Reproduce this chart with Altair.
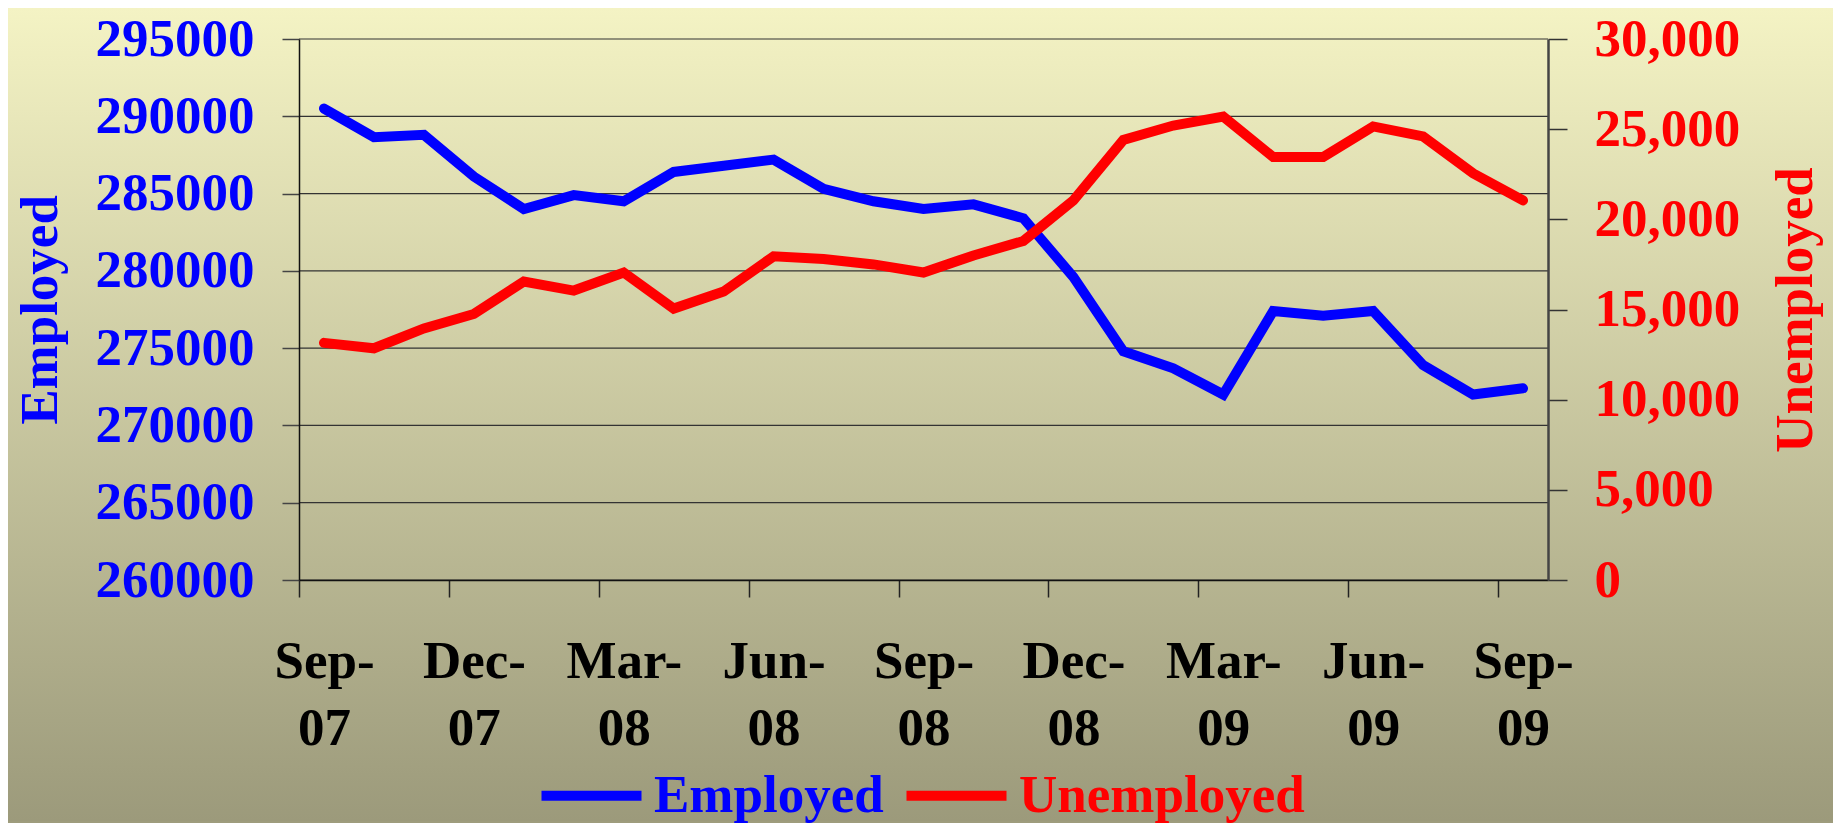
import json
import altair as alt
import pandas as pd

# ---------------- data ----------------
months = ["Sep-07", "Oct-07", "Nov-07", "Dec-07", "Jan-08", "Feb-08", "Mar-08",
          "Apr-08", "May-08", "Jun-08", "Jul-08", "Aug-08", "Sep-08", "Oct-08",
          "Nov-08", "Dec-08", "Jan-09", "Feb-09", "Mar-09", "Apr-09", "May-09",
          "Jun-09", "Jul-09", "Aug-09", "Sep-09"]
employed = [290500, 288650, 288800, 286100, 284000, 284900, 284500, 286400,
            286800, 287200, 285300, 284500, 284000, 284300, 283400, 279600,
            274800, 273700, 272000, 277400, 277100, 277400, 273900, 272000,
            272400]
unemployed = [13150, 12850, 13950, 14750, 16550, 16050, 17050, 15050, 16000,
              17950, 17800, 17500, 17050, 18000, 18800, 21050, 24400, 25200,
              25700, 23450, 23450, 25150, 24600, 22550, 21050]
emp_ticks = [260000, 265000, 270000, 275000, 280000, 285000, 290000, 295000]
unemp_ticks = [0, 5000, 10000, 15000, 20000, 25000, 30000]
# category boundaries, one tick every third month
x_tick_values = [-0.5, 2.5, 5.5, 8.5, 11.5, 14.5, 17.5, 20.5, 23.5]
series_names = ["Employed", "Unemployed"]
series_colors = ["#0000FF", "#FF0000"]

FONT = "Liberation Serif"
FS = 53
W, H = 1249, 541

df = pd.DataFrame({"idx": list(range(len(months))), "month": months,
                   "Employed": employed, "Unemployed": unemployed})

M = json.dumps(months)
lbl = f"{M}[round(datum.value + 0.5)]"
label_expr = f"[slice({lbl}, 0, 4), slice({lbl}, 4)]"

x_enc = alt.X(
    "idx:Q",
    scale=alt.Scale(domain=[-0.5, len(months) - 0.5], nice=False, zero=False),
    axis=alt.Axis(values=x_tick_values, labelExpr=label_expr, title=None,
                  grid=False, labelOffset=W / len(months) / 2,
                  tickSize=17, tickColor="#222222", tickWidth=1.5,
                  domainColor="#111111", domainWidth=1.5,
                  labelFont=FONT, labelFontSize=FS, labelFontWeight="bold",
                  labelColor="black", labelPadding=38, labelLineHeight=67,
                  labelFlush=False, labelOverlap=False, labelAlign="center",
                  labelBaseline="top", zindex=1),
)

color_scale = alt.Scale(domain=series_names, range=series_colors)
legend = alt.Legend(
    orient="none", legendX=266, legendY=730, direction="horizontal",
    title=None, symbolType="M-5,0L5,0", symbolSize=400, symbolStrokeWidth=10,
    labelFont=FONT, labelFontSize=FS, labelFontWeight="bold",
    labelColor=alt.ExprRef(expr="datum.value === 'Employed' ? '#0000FF' : '#FF0000'"),
    labelLimit=0, labelOffset=36, columnPadding=2, zindex=2,
)

emp_scale = alt.Scale(domain=[emp_ticks[0], emp_ticks[-1]], nice=False, zero=False)
emp_axis = alt.Axis(orient="left", values=emp_ticks, format="d",
                    title="Employed", grid=False,
                    tickSize=17, tickColor="#444444", tickWidth=1.5,
                    domainColor="#111111", domainWidth=1.5,
                    labelFont=FONT, labelFontSize=FS, labelFontWeight="bold",
                    labelColor="#0000FF", labelPadding=28,
                    labelFlush=False, labelOverlap=False,
                    titleFont=FONT, titleFontSize=FS, titleFontWeight="bold",
                    titleColor="#0000FF", titlePadding=32, zindex=1)

grid = alt.Chart(pd.DataFrame({"Employed": emp_ticks})).mark_rule(
    color="#333333", strokeWidth=1.2
).encode(y=alt.Y("Employed:Q", scale=emp_scale, axis=emp_axis))

emp = alt.Chart(df).transform_calculate(series="'Employed'").mark_line(
    strokeWidth=10, strokeCap="round", strokeJoin="miter"
).encode(
    x=x_enc,
    y=alt.Y("Employed:Q", scale=emp_scale, axis=emp_axis),
    color=alt.Color("series:N", scale=color_scale, legend=legend),
)

unemp = alt.Chart(df).transform_calculate(series="'Unemployed'").mark_line(
    strokeWidth=10, strokeCap="round", strokeJoin="miter"
).encode(
    x=x_enc,
    y=alt.Y("Unemployed:Q",
            scale=alt.Scale(domain=[unemp_ticks[0], unemp_ticks[-1]], nice=False),
            axis=alt.Axis(orient="right", values=unemp_ticks, format=",d",
                          title="Unemployed", grid=False,
                          tickSize=19, tickColor="#333333", tickWidth=1.5,
                          domainColor="#444444", domainWidth=2.5,
                          labelFont=FONT, labelFontSize=FS, labelFontWeight="bold",
                          labelColor="#FF0000", labelPadding=27,
                          labelFlush=False, labelOverlap=False,
                          titleFont=FONT, titleFontSize=FS, titleFontWeight="bold",
                          titleColor="#FF0000", titlePadding=30, titleAngle=270,
                          titleBaseline="top", zindex=1)),
    color=alt.Color("series:N", scale=color_scale, legend=legend),
)

gradient = alt.LinearGradient(
    gradient="linear", x1=0, x2=0, y1=0, y2=1,
    stops=[alt.GradientStop(color="#F4F3C4", offset=0),
           alt.GradientStop(color="#9C9A7B", offset=1)],
)
bg = alt.Chart(alt.Data(values=[{}])).mark_rect(fill=gradient).encode(
    x=alt.value(-291), x2=alt.value(1534), y=alt.value(-31), y2=alt.value(782)
)

chart = alt.layer(bg, alt.layer(grid, emp), unemp).resolve_scale(
    y="independent"
).properties(
    width=W, height=H, padding=0, background="#9E9C7D"
).configure_view(stroke=None)

chart.save("out.html", embed_options={"renderer": "svg", "actions": False})
